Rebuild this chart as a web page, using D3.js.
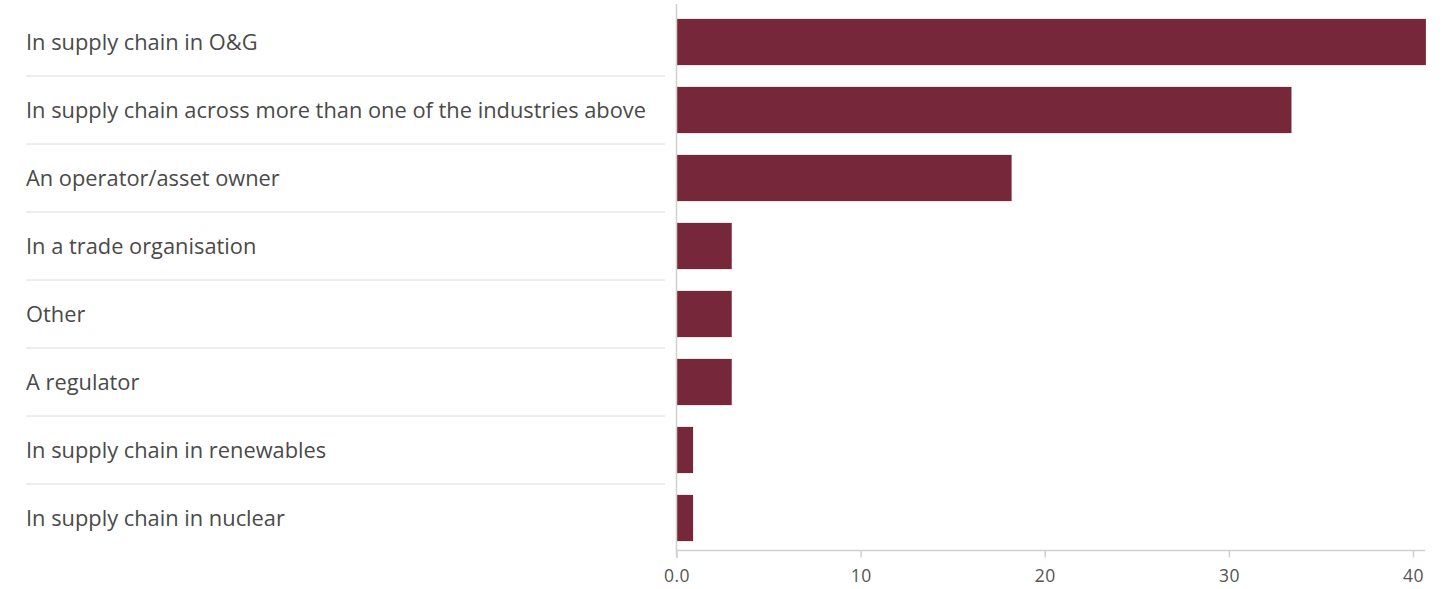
<!DOCTYPE html>
<html>
<head>
<meta charset="utf-8">
<script src="https://cdn.jsdelivr.net/npm/d3@7"></script>
<style>
  html, body { margin: 0; padding: 0; background: #fff; }
  svg { display: block; font-family: "Open Sans", Lato, sans-serif; }
</style>
</head>
<body>
<svg id="chart" width="1452" height="589"></svg>
<script>
// Respondent role, share of respondents (%)
const categories = [
  "In supply chain in O&G",
  "In supply chain across more than one of the industries above",
  "An operator/asset owner",
  "In a trade organisation",
  "Other",
  "A regulator",
  "In supply chain in renewables",
  "In supply chain in nuclear"
];
const values = [40.7, 33.4, 18.2, 3.0, 3.0, 3.0, 0.9, 0.9];
const xTicks = [0, 10, 20, 30, 40];

const svg = d3.select("#chart");
const barColor = "#76283a";

const x = d3.scaleLinear().domain([0, 40]).range([676.5, 1413]);
const y = d3.scaleBand().domain(categories).range([8, 552]).paddingInner(0.32).paddingOuter(0.16);

const rowStep = y.step();

// separators between rows in the label column
svg.append("g")
  .selectAll("line")
  .data(categories.slice(0, -1))
  .join("line")
  .attr("x1", 26).attr("x2", 665)
  .attr("y1", d => y(d) + y.bandwidth() / 2 + rowStep / 2)
  .attr("y2", d => y(d) + y.bandwidth() / 2 + rowStep / 2)
  .attr("stroke", "#dcdcdc").attr("stroke-width", 1);

// category labels
const labels = svg.append("g")
  .selectAll("text")
  .data(categories)
  .join("text")
  .attr("x", 26)
  .attr("y", d => y(d) + y.bandwidth() / 2 + 2.5)
  .attr("dominant-baseline", "middle")
  .attr("fill", "#4a4a4a")
  .style("font-size", "19px")
  .text(d => d);

// fit the longest label into the label column
const longest = d3.max(labels.nodes(), n => n.getComputedTextLength());
const fs = 19 * 620 / longest;
labels.style("font-size", fs.toFixed(2) + "px");

// bars
svg.append("g")
  .selectAll("rect")
  .data(values)
  .join("rect")
  .attr("x", x(0))
  .attr("y", (d, i) => y(categories[i]))
  .attr("width", d => x(d) - x(0))
  .attr("height", y.bandwidth())
  .attr("fill", barColor);

// vertical baseline
svg.append("line")
  .attr("x1", x(0)).attr("x2", x(0))
  .attr("y1", 4).attr("y2", 558)
  .attr("stroke", "#d0d0d0").attr("stroke-width", 1.5);

// x axis
const axis = svg.append("g")
  .attr("transform", "translate(0,550.5)")
  .call(d3.axisBottom(x).tickValues(xTicks).tickSize(7).tickPadding(12)
    .tickFormat(d => d === 0 ? "0.0" : String(d)));
axis.select(".domain").attr("stroke", "#d0d0d0").attr("stroke-width", 1.5)
  .attr("d", `M${x(0)},0H1425`);
axis.selectAll(".tick line").attr("stroke", "#d0d0d0").attr("stroke-width", 1.5);
axis.selectAll(".tick text")
  .attr("fill", "#555")
  .style("font-size", "17.5px")
  .style("letter-spacing", "0.5px")
  .style("font-family", "\"Open Sans\", Lato, sans-serif");
</script>
</body>
</html>
